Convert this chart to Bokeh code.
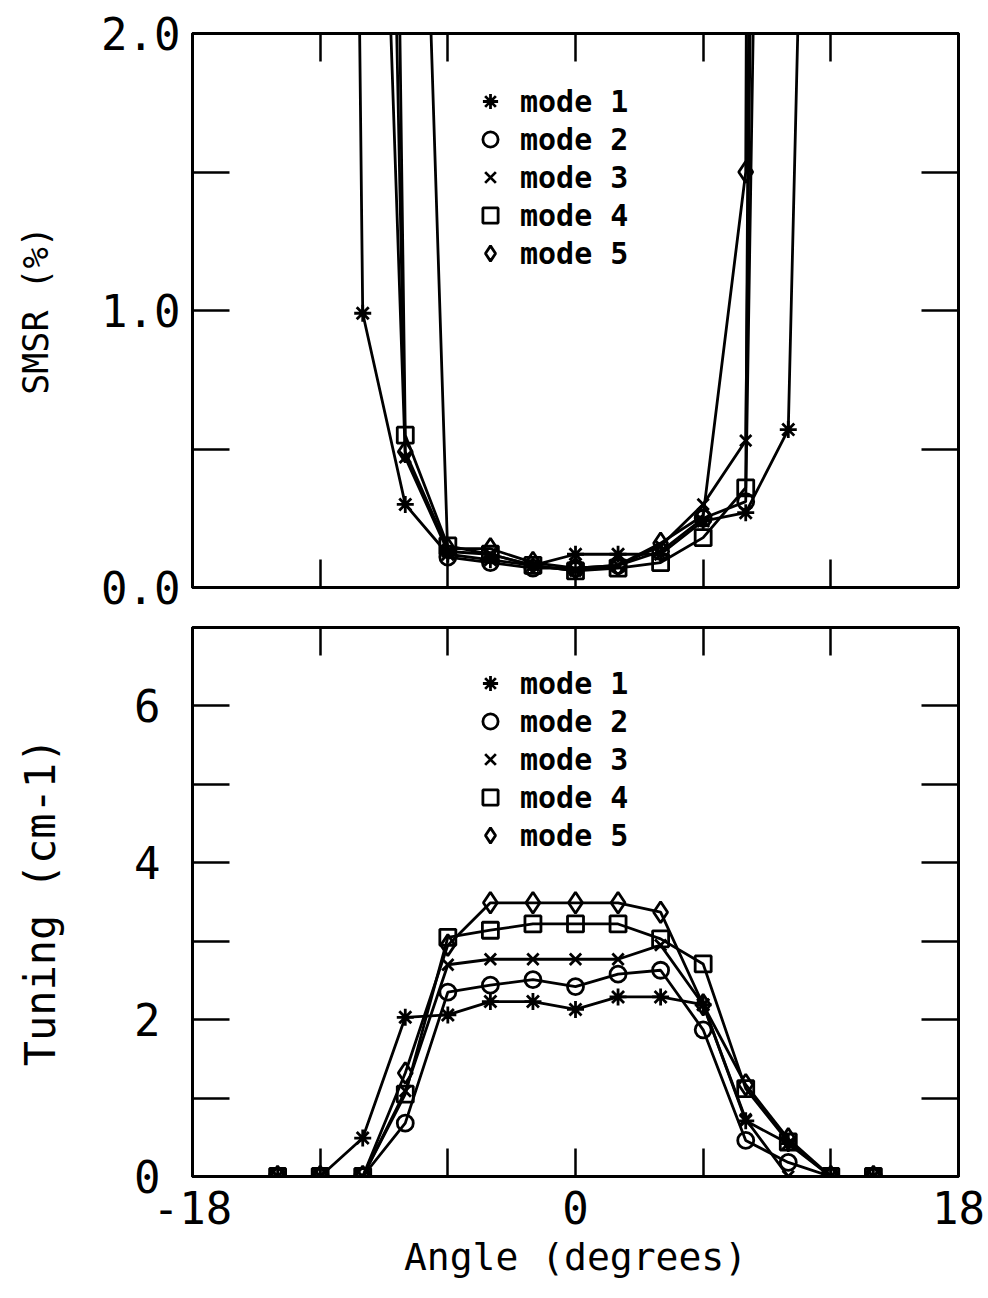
from bokeh.embed import file_html
from bokeh.layouts import column
from bokeh.models import (ColumnDataSource, FixedTicker, Legend, LegendItem,
                          LinearAxis, PrintfTickFormatter, Range1d)
from bokeh.plotting import figure
from bokeh.resources import INLINE

nan = float("nan")

# Measurement angles (degrees)
angles = [-14, -12, -10, -8, -6, -4, -2, 0, 2, 4, 6, 8, 10, 12, 14]

mode_labels = ["mode 1", "mode 2", "mode 3", "mode 4", "mode 5"]
mode_markers = ["asterisk", "circle", "x", "square", "diamond"]
mode_sizes = [17, 16, 16, 16, 21]

# Side-mode suppression ratio (%); values above 2.0 run off the top of the panel
smsr_mode1 = [nan, 15.0, 0.99, 0.30, 0.12, 0.10, 0.08, 0.12, 0.12, 0.12, 0.24, 0.27, 0.57, 7.0, nan]
smsr_mode2 = [nan, nan, nan, 4.9, 0.11, 0.09, 0.07, 0.07, 0.08, 0.13, 0.25, 0.31, 10.0, nan, nan]
smsr_mode3 = [nan, nan, 5.0, 0.47, 0.13, 0.12, 0.08, 0.06, 0.08, 0.15, 0.30, 0.53, 15.0, nan, nan]
smsr_mode4 = [nan, nan, 12.0, 0.55, 0.15, 0.12, 0.08, 0.06, 0.07, 0.09, 0.18, 0.36, 25.0, nan, nan]
smsr_mode5 = [nan, nan, 8.0, 0.49, 0.14, 0.14, 0.09, 0.07, 0.08, 0.16, 0.26, 1.50, 40.0, nan, nan]

# Tuning range (cm-1)
tuning_mode1 = [0, 0, 0.49, 2.03, 2.06, 2.23, 2.23, 2.13, 2.29, 2.29, 2.19, 0.71, 0.42, 0, 0]
tuning_mode2 = [0, 0, 0, 0.68, 2.35, 2.44, 2.51, 2.42, 2.58, 2.63, 1.87, 0.46, 0.18, 0, 0]
tuning_mode3 = [0, 0, 0, 1.09, 2.70, 2.77, 2.77, 2.77, 2.77, 2.95, 2.19, 0.73, 0.0, 0, 0]
tuning_mode4 = [0, 0, 0, 1.05, 3.05, 3.14, 3.22, 3.22, 3.22, 3.03, 2.71, 1.12, 0.44, 0, 0]
tuning_mode5 = [0, 0, 0, 1.32, 2.95, 3.49, 3.49, 3.49, 3.49, 3.37, 2.19, 1.17, 0.48, 0, 0]

smsr_series = [smsr_mode1, smsr_mode2, smsr_mode3, smsr_mode4, smsr_mode5]
tuning_series = [tuning_mode1, tuning_mode2, tuning_mode3, tuning_mode4, tuning_mode5]

x_labelled = [-18, 0, 18]
x_other = [-12, -6, 6, 12]
x_all = [-18, -12, -6, 0, 6, 12, 18]

FONT = "DejaVu Sans Mono"
INK = "black"


def style_axis(ax, ticker, tick_len, label_size="44px", standoff=10):
    ax.ticker = ticker
    ax.major_tick_in = tick_len
    ax.major_tick_out = 0
    ax.minor_tick_in = tick_len
    ax.minor_tick_out = 0
    ax.axis_line_color = INK
    ax.axis_line_width = 3
    ax.major_tick_line_color = INK
    ax.major_tick_line_width = 2.5
    ax.minor_tick_line_color = INK
    ax.minor_tick_line_width = 2.5
    ax.major_label_text_color = INK
    ax.major_label_text_font = FONT
    ax.major_label_text_font_size = label_size
    ax.major_label_standoff = standoff


def make_panel(series, height, border_top, border_bottom, y_max, y_ticks, y_minor,
               y_label, y_label_size, y_fmt, y_label_standoff, y_tick_standoff,
               label_x, legend_loc):
    p = figure(width=988, height=height, output_backend="svg", toolbar_location=None,
               x_range=Range1d(-18, 18), y_range=Range1d(0, y_max),
               x_axis_location=None, y_axis_location=None,
               min_border_left=192, min_border_right=30,
               min_border_top=border_top, min_border_bottom=border_bottom,
               background_fill_color="white", border_fill_color="white")
    p.grid.visible = False
    p.outline_line_color = INK
    p.outline_line_width = 3

    # left axis with value labels
    left_ax = LinearAxis(ticker=FixedTicker(ticks=y_ticks, minor_ticks=y_minor))
    style_axis(left_ax, left_ax.ticker, 37, standoff=y_tick_standoff)
    if y_fmt:
        left_ax.formatter = PrintfTickFormatter(format=y_fmt)
    left_ax.axis_label = y_label
    left_ax.axis_label_text_font = FONT
    left_ax.axis_label_text_font_style = "normal"
    left_ax.axis_label_text_font_size = y_label_size
    left_ax.axis_label_text_color = INK
    left_ax.axis_label_standoff = y_label_standoff
    p.add_layout(left_ax, "left")

    # bottom axis: labelled only on the lower panel
    if label_x:
        bottom_ax = LinearAxis(ticker=FixedTicker(ticks=x_labelled, minor_ticks=x_other))
        style_axis(bottom_ax, bottom_ax.ticker, 28, standoff=14)
        bottom_ax.major_label_overrides = {-18: "-18", 0: "0", 18: "18"}
        bottom_ax.axis_label = "Angle (degrees)"
        bottom_ax.axis_label_text_font = FONT
        bottom_ax.axis_label_text_font_style = "normal"
        bottom_ax.axis_label_text_font_size = "38px"
        bottom_ax.axis_label_text_color = INK
        bottom_ax.axis_label_standoff = 8
    else:
        bottom_ax = LinearAxis(ticker=FixedTicker(ticks=[], minor_ticks=x_all))
        style_axis(bottom_ax, bottom_ax.ticker, 28)
    p.add_layout(bottom_ax, "below")

    # mirrored, unlabelled ticks on top and right
    top_ax = LinearAxis(ticker=FixedTicker(ticks=[], minor_ticks=x_all))
    style_axis(top_ax, top_ax.ticker, 28)
    p.add_layout(top_ax, "above")
    right_ax = LinearAxis(ticker=FixedTicker(ticks=[], minor_ticks=y_ticks + y_minor))
    style_axis(right_ax, right_ax.ticker, 37)
    p.add_layout(right_ax, "right")

    data = {"angle": angles}
    for i, vals in enumerate(series):
        data[f"m{i}"] = vals
    src = ColumnDataSource(data)

    items = []
    for i in range(len(series)):
        p.line("angle", f"m{i}", source=src, line_color=INK, line_width=2.8)
        r = p.scatter("angle", f"m{i}", source=src, marker=mode_markers[i],
                      size=mode_sizes[i], line_color=INK, line_width=2.8,
                      fill_color=None)
        items.append(LegendItem(label=mode_labels[i], renderers=[r]))

    legend = Legend(items=items, location=legend_loc,
                    border_line_color=None, background_fill_alpha=0,
                    label_text_font=FONT, label_text_font_style="bold",
                    label_text_font_size="30px", label_text_color=INK,
                    glyph_width=38, glyph_height=38, label_height=38,
                    spacing=0, padding=0, margin=0, label_standoff=11)
    p.add_layout(legend)
    return p


top = make_panel(smsr_series, 615, 33, 28, 2.0, [0, 1, 2], [0.5, 1.5],
                 "SMSR (%)", "35px", "%.1f", 42, 12, False, (279, 315))

bottom = make_panel(tuning_series, 683, 12, 122, 7.0, [0, 2, 4, 6], [1, 3, 5],
                    "Tuning (cm-1)", "42px", None, 66, 32, True, (279, 322))

layout = column(top, bottom, spacing=0)

with open("out.html", "w") as f:
    f.write(file_html(layout, INLINE))
